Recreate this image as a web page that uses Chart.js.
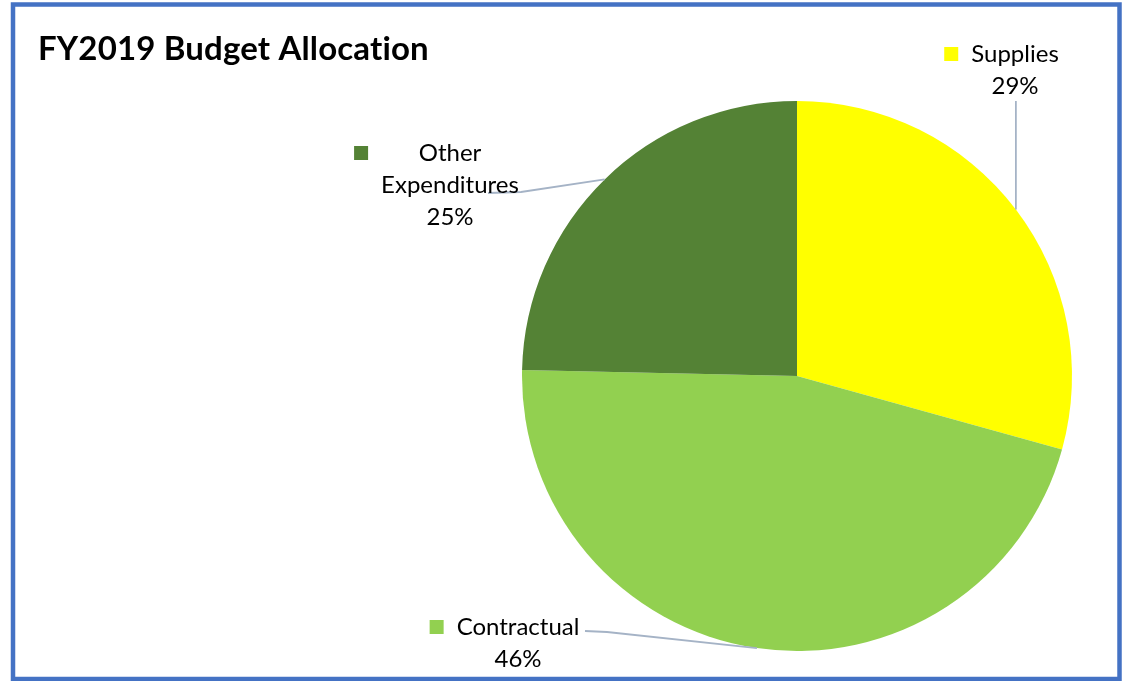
<!DOCTYPE html>
<html>
<head>
<meta charset="utf-8">
<script src="https://cdn.jsdelivr.net/npm/chart.js@4/dist/chart.umd.min.js"></script>
<style>
  html, body { margin: 0; padding: 0; background: #ffffff; }
  #wrap { width: 1125px; height: 681px; position: relative; }
</style>
</head>
<body>
<div id="wrap"><canvas id="c" width="1125" height="681"></canvas></div>
<script>
// ---- data ----
const categories = ["Supplies", "Contractual", "Other Expenditures"];
const values = [29.3, 46.05, 24.65];
const percentLabels = ["29%", "46%", "25%"];
const colors = ["#FFFF00", "#92D050", "#548235"];
const titleText = "FY2019 Budget Allocation";

// ---- label layout (text centre x, first-line y, lines) ----
const labelLayout = [
  { lines: ["Supplies", "29%"], cx: 1015, y: 54, leader: "vertical" },
  { lines: ["Contractual", "46%"], cx: 518, y: 627, leader: [[585, 631], [607, 632]] },
  { lines: ["Other", "Expenditures", "25%"], cx: 450, y: 153, leader: [[488, 193], [521, 192]] }
];

const FONT = "Lato, 'Open Sans', sans-serif";

const decorPlugin = {
  id: 'decor',
  afterDraw(chart) {
    const ctx = chart.ctx;
    const meta = chart.getDatasetMeta(0);
    ctx.save();
    // frame
    ctx.strokeStyle = "#4472C4";
    ctx.lineWidth = 4.5;
    ctx.strokeRect(13, 4.5, 1106.5, 674.5);
    // title
    ctx.fillStyle = "#000000";
    ctx.font = "bold 33px " + FONT;
    if ('letterSpacing' in ctx) ctx.letterSpacing = "0.15px";
    ctx.textBaseline = "middle";
    ctx.textAlign = "left";
    ctx.fillText(titleText, 38, 49);
    if ('letterSpacing' in ctx) ctx.letterSpacing = "0px";

    ctx.font = "24px " + FONT;
    const lh = 32;
    labelLayout.forEach((lab, i) => {
      const arc = meta.data[i];
      const p = arc.getProps(['x', 'y', 'startAngle', 'endAngle', 'outerRadius'], true);
      const mid = (p.startAngle + p.endAngle) / 2;
      const ax = p.x + Math.cos(mid) * p.outerRadius;
      const ay = p.y + Math.sin(mid) * p.outerRadius;
      // leader line
      ctx.strokeStyle = "#A5B3C6";
      ctx.lineWidth = 1.8;
      ctx.beginPath();
      if (lab.leader === "vertical") {
        ctx.moveTo(ax, lab.y + lh + 15);
        ctx.lineTo(ax, ay);
      } else {
        ctx.moveTo(lab.leader[0][0], lab.leader[0][1]);
        ctx.lineTo(lab.leader[1][0], lab.leader[1][1]);
        ctx.lineTo(ax, ay);
      }
      ctx.stroke();
      // text
      ctx.fillStyle = "#000000";
      ctx.textAlign = "center";
      ctx.textBaseline = "middle";
      let maxW = 0;
      lab.lines.forEach(t => { maxW = Math.max(maxW, ctx.measureText(t).width); });
      lab.lines.forEach((t, k) => ctx.fillText(t, lab.cx, lab.y + k * lh));
      // key square
      const left = lab.cx - maxW / 2;
      ctx.fillStyle = colors[i];
      ctx.fillRect(left - 27, lab.y - 7, 14, 14);
    });
    ctx.restore();
  }
};

new Chart(document.getElementById('c'), {
  type: 'pie',
  data: {
    labels: categories,
    datasets: [{
      data: values,
      backgroundColor: colors,
      borderWidth: 0
    }]
  },
  options: {
    responsive: false,
    animation: false,
    devicePixelRatio: 1,
    layout: { padding: { left: 522, right: 53, top: 101, bottom: 30 } },
    plugins: { legend: { display: false }, tooltip: { enabled: false }, title: { display: false } }
  },
  plugins: [decorPlugin]
});
</script>
</body>
</html>
